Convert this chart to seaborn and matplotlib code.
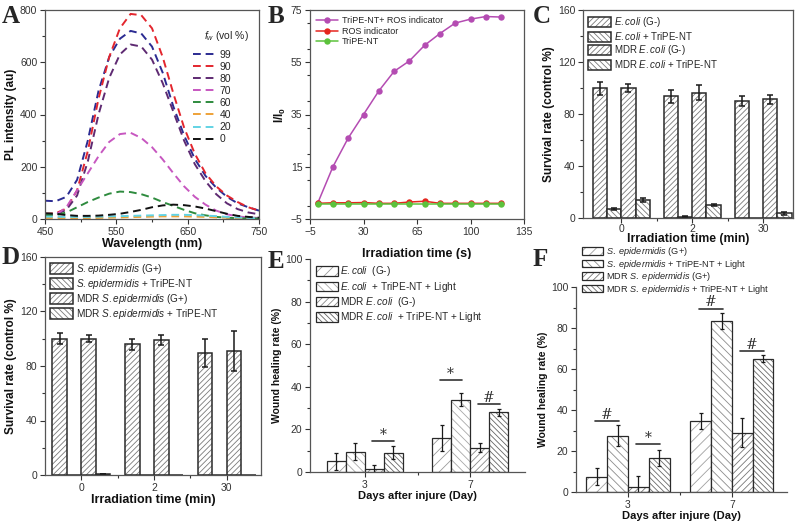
import matplotlib
matplotlib.use("Agg")
import matplotlib.pyplot as plt
import matplotlib.colors as mcolors
from matplotlib.ticker import MultipleLocator, FixedLocator
import pandas as pd
import seaborn as sns

sns.set_theme(style="ticks")
plt.rcParams['font.family'] = ['Liberation Sans', 'DejaVu Sans']
plt.rcParams['mathtext.fontset'] = 'custom'
plt.rcParams['mathtext.rm'] = 'Liberation Sans'
plt.rcParams['mathtext.it'] = 'Liberation Sans:italic'
plt.rcParams['mathtext.bf'] = 'Liberation Sans:bold'
plt.rcParams['hatch.linewidth'] = 0.6

# ---- panel A: PL spectra at different water fractions
wavelength = [450, 465, 480, 495, 510, 525, 540, 555, 570, 585, 600,
              615, 630, 645, 660, 675, 690, 705, 720, 735, 750]
pl_99 = [70, 68, 85, 150, 300, 490, 620, 690, 720, 710, 660,
         560, 430, 320, 230, 165, 120, 85, 60, 45, 32]
pl_90 = [20, 22, 40, 110, 260, 460, 620, 730, 785, 780, 730,
         620, 480, 350, 250, 175, 125, 90, 65, 45, 32]
pl_80 = [15, 18, 35, 90, 220, 400, 540, 630, 668, 660, 610,
         520, 410, 300, 210, 145, 95, 60, 38, 25, 18]
pl_70 = [12, 15, 45, 110, 175, 240, 295, 325, 330, 310, 275,
         228, 175, 125, 85, 55, 32, 18, 10, 6, 4]
pl_60 = [15, 15, 25, 45, 65, 82, 97, 105, 103, 95, 82,
         65, 50, 35, 22, 14, 8, 5, 3, 2, 2]
pl_40 = [4, 4, 3, 3, 3, 4, 5, 6, 7, 8, 9,
         10, 10, 10, 9, 8, 6, 5, 3, 2, 2]
pl_20 = [9, 9, 8, 8, 8, 9, 10, 11, 12, 13, 14,
         15, 16, 16, 15, 13, 11, 8, 6, 4, 3]
pl_0 = [22, 20, 15, 12, 12, 13, 16, 20, 27, 35, 45,
        52, 55, 53, 48, 40, 30, 20, 12, 8, 5]
fw_labels = ['99', '90', '80', '70', '60', '40', '20', '0']
fw_colors = ['#2b2b92', '#e3262e', '#5e2a72', '#c757c0', '#2e8b3e', '#eea238', '#62d3e4', '#111111']

# ---- panel B: ROS generation
time_s = [0, 10, 20, 30, 40, 50, 60, 70, 80, 90, 100, 110, 120]
ros_tripe = [1, 15, 26, 35, 44, 51.5, 55.5, 61.5, 66, 70, 71.5, 72.5, 72.3]
ros_only = [1, 1.2, 1.2, 1.3, 1, 1, 1.5, 1.8, 1, 1, 1, 1, 1]
tripe_only = [0.8, 0.8, 0.8, 0.8, 0.8, 0.8, 0.8, 0.8, 0.8, 0.8, 0.8, 0.8, 0.8]

# ---- panel C: E. coli survival
irr_min = ['0', '2', '30']
c_labels = [r'$\mathit{E.coli}$ (G-)', r'$\mathit{E.coli}$ + TriPE-NT',
            r'MDR $\mathit{E.coli}$ (G-)', r'MDR $\mathit{E.coli}$ + TriPE-NT']
surv_ecoli = [100, 93.5, 90]
surv_ecoli_err = [5, 5, 4]
surv_ecoli_tripe = [7, 1, 0]
surv_ecoli_tripe_err = [0.6, 0.3, 0]
surv_mdr_ecoli = [100, 96.5, 91.5]
surv_mdr_ecoli_err = [3, 6, 3.5]
surv_mdr_ecoli_tripe = [14, 10, 3.5]
surv_mdr_ecoli_tripe_err = [1.5, 0.8, 1]

# ---- panel D: S. epidermidis survival
d_labels = [r'$\mathit{S.epidermidis}$ (G+)', r'$\mathit{S.epidermidis}$ + TriPE-NT',
            r'MDR $\mathit{S.epidermidis}$ (G+)', r'MDR $\mathit{S.epidermidis}$ + TriPE-NT']
surv_sepi = [100, 96, 89.5]
surv_sepi_err = [4, 4, 10]
surv_sepi_tripe = [0.3, 0, 0]
surv_sepi_tripe_err = [0, 0, 0]
surv_mdr_sepi = [100, 99, 91]
surv_mdr_sepi_err = [2.5, 3.5, 15]
surv_mdr_sepi_tripe = [0.7, 0, 0]
surv_mdr_sepi_tripe_err = [0.3, 0, 0]

# ---- panel E / F: wound healing
days = ['3', '7']
e_labels = [r'$\mathit{E.coli}$  (G-)', r'$\mathit{E.coli}$  + TriPE-NT + Light',
            r'MDR $\mathit{E.coli}$  (G-)', r'MDR $\mathit{E.coli}$  + TriPE-NT + Light']
heal_ecoli = [5, 16]
heal_ecoli_err = [4, 6]
heal_ecoli_tripe = [9.5, 34]
heal_ecoli_tripe_err = [4, 3]
heal_mdr_ecoli = [1.5, 11.5]
heal_mdr_ecoli_err = [2, 2.2]
heal_mdr_ecoli_tripe = [9, 28]
heal_mdr_ecoli_tripe_err = [3, 1.5]
# (day index, bar a, bar b, line height, symbol)
sig_e = [(0, 2, 3, 14.7, '*'), (1, 0, 1, 43, '*'), (1, 2, 3, 32, '#')]

f_labels = [r'$\mathit{S.\ epidermidis}$ (G+)', r'$\mathit{S.\ epidermidis}$ + TriPE-NT + Light',
            r'MDR $\mathit{S.\ epidermidis}$ (G+)', r'MDR $\mathit{S.\ epidermidis}$ + TriPE-NT + Light']
heal_sepi = [7.5, 34.5]
heal_sepi_err = [4, 4]
heal_sepi_tripe = [27.5, 83.5]
heal_sepi_tripe_err = [5, 4]
heal_mdr_sepi = [2.2, 29]
heal_mdr_sepi_err = [5.5, 7]
heal_mdr_sepi_tripe = [16.5, 65]
heal_mdr_sepi_tripe_err = [4, 1.8]
sig_f = [(0, 0, 1, 34.8, '#'), (0, 2, 3, 23.5, '*'), (1, 0, 1, 89.5, '#'), (1, 2, 3, 68.6, '#')]

fig = plt.figure(figsize=(8, 5.21), dpi=100)
W, H = 800, 521


def box(l, t, r, b):
    return fig.add_axes([l / W, 1 - b / H, (r - l) / W, (b - t) / H])


def style(ax, frame=True):
    for s in ax.spines.values():
        s.set_color('#555555')
        s.set_linewidth(0.9)
    if not frame:
        ax.spines['top'].set_visible(False)
        ax.spines['right'].set_visible(False)
    ax.tick_params(which='both', direction='out', colors='#333333', labelsize=7.5,
                   width=0.8, top=False, right=False, pad=2)
    ax.tick_params(which='major', length=3.5)
    ax.tick_params(which='minor', length=2)
    ax.grid(False)


def labels(ax, xl, yl, lp=1):
    ax.set_xlabel(xl, fontsize=9, fontweight='bold', labelpad=lp, color='#111111')
    ax.set_ylabel(yl, fontsize=8.5, fontweight='bold', labelpad=2, color='#111111')


def bars(ax, cats, series, errs, names, hatches, hcolors, width, lw=1.0, cap=2):
    rows = []
    for nm, vals in zip(names, series):
        for c, v in zip(cats, vals):
            rows.append({'cat': c, 'grp': nm, 'val': v})
    df = pd.DataFrame(rows)
    sns.barplot(data=df, x='cat', y='val', hue='grp', order=cats, hue_order=names,
                palette=['white'] * len(names), saturation=1, errorbar=None,
                width=width, gap=0, legend=False, ax=ax)
    conts = list(ax.containers)
    for cont, err, h, hc in zip(conts, errs, hatches, hcolors):
        xs, ys, es = [], [], []
        for b, e in zip(cont, err):
            b.set_hatch(h)
            b.set_edgecolor('#2a2a2a')
            b.set_linewidth(lw)
            b._hatch_color = mcolors.to_rgba(hc)
            if e > 0:
                xs.append(b.get_x() + b.get_width() / 2)
                ys.append(b.get_height())
                es.append(e)
        if xs:
            ax.errorbar(xs, ys, yerr=es, fmt='none', ecolor='#1a1a1a',
                        elinewidth=lw, capsize=cap, capthick=lw)
    return conts


def signif(ax, conts, sig):
    for g, a, b, y, sym in sig:
        pa, pb = conts[a][g], conts[b][g]
        x0 = pa.get_x() + pa.get_width() * 0.4
        x1 = pb.get_x() + pb.get_width() * 0.55
        ax.plot([x0, x1], [y, y], color='#333333', lw=1.2)
        ax.text((x0 + x1) / 2, y + 1.0, sym, ha='center', va='baseline',
                fontsize=10, color='#333333', family='DejaVu Serif')


# ---------------- A
ax = box(45, 10, 259, 219)
style(ax)
for vals, lab, col in zip([pl_99, pl_90, pl_80, pl_70, pl_60, pl_40, pl_20, pl_0], fw_labels, fw_colors):
    sns.lineplot(x=wavelength, y=vals, ax=ax, color=col, lw=1.4, label=lab,
                 linestyle=(0, (4, 2.5)))
ax.set_xlim(450, 750)
ax.set_ylim(0, 800)
ax.xaxis.set_minor_locator(MultipleLocator(50))
ax.yaxis.set_major_locator(MultipleLocator(200))
ax.yaxis.set_minor_locator(MultipleLocator(100))
ax.set_xticks([450, 550, 650, 750])
labels(ax, 'Wavelength (nm)', 'PL intensity (au)')
ax.text(0.745, 0.875, r'$f_w$ (vol %)', transform=ax.transAxes, fontsize=7.5,
        ha='left', va='center')
ax.legend(frameon=False, fontsize=7.5, loc='upper left', bbox_to_anchor=(0.69, 0.81),
          handlelength=2.2, labelspacing=0.2, borderaxespad=0.0, handletextpad=0.4,
          borderpad=0.0)

# ---------------- B
ax = box(310, 10, 524, 219)
style(ax)
for vals, lab, col in zip([ros_tripe, ros_only, tripe_only],
                          ['TriPE-NT+ ROS indicator', 'ROS indicator', 'TriPE-NT'],
                          ['#b44cb2', '#e5261f', '#5cc23c']):
    sns.lineplot(x=time_s, y=vals, ax=ax, color=col, lw=1.1, marker='o',
                 markersize=4.6, markeredgewidth=0, label=lab)
ax.set_xlim(-5, 135)
ax.set_ylim(-5, 75)
ax.yaxis.set_minor_locator(MultipleLocator(10))
ax.set_xticks([-5, 30, 65, 100, 135])
ax.set_yticks([-5, 15, 35, 55, 75])
labels(ax, 'Irradiation time (s)', r'I/I$_\mathbf{0}$', lp=8)
ax.legend(frameon=False, fontsize=6.5, loc='upper left', handlelength=2.4,
          labelspacing=0.15, borderaxespad=0.3, handletextpad=0.4)

# ---------------- C
ax = box(583, 10, 793, 218)
style(ax)
conts = bars(ax, irr_min,
             [surv_ecoli, surv_ecoli_tripe, surv_mdr_ecoli, surv_mdr_ecoli_tripe],
             [surv_ecoli_err, surv_ecoli_tripe_err, surv_mdr_ecoli_err, surv_mdr_ecoli_tripe_err],
             c_labels, ['//////', '\\\\\\\\\\\\', '//////', '\\\\\\\\\\\\'],
             ['#7a7a7a'] * 4, 0.8, lw=1.1, cap=2.2)
ax.set_xlim(-0.54, 2.42)
ax.set_ylim(0, 160)
ax.yaxis.set_major_locator(MultipleLocator(40))
ax.yaxis.set_minor_locator(MultipleLocator(20))
ax.xaxis.set_minor_locator(FixedLocator([0.5, 1.5]))
ax.tick_params(axis='x', pad=1)
labels(ax, 'Irradiation time (min)', 'Survival rate (control %)', lp=-1)
ax.xaxis.label.set_fontsize(8.8)
ax.legend(conts, c_labels, frameon=False, fontsize=7, loc='upper left',
          handlelength=2.3, handleheight=1.25, labelspacing=0.1,
          borderaxespad=0.15, handletextpad=0.3)

# ---------------- D
ax = box(45, 257, 261, 475)
style(ax)
conts = bars(ax, irr_min,
             [surv_sepi, surv_sepi_tripe, surv_mdr_sepi, surv_mdr_sepi_tripe],
             [surv_sepi_err, surv_sepi_tripe_err, surv_mdr_sepi_err, surv_mdr_sepi_tripe_err],
             d_labels, ['//////', '\\\\\\\\\\\\', '//////', '\\\\\\\\\\\\'],
             ['#7a7a7a'] * 4, 0.8, lw=1.1, cap=2.2)
ax.set_xlim(-0.5, 2.47)
ax.set_ylim(0, 160)
ax.yaxis.set_major_locator(MultipleLocator(40))
ax.yaxis.set_minor_locator(MultipleLocator(20))
ax.xaxis.set_minor_locator(FixedLocator([0.5, 1.5]))
labels(ax, 'Irradiation time (min)', 'Survival rate (control %)')
ax.legend(conts, d_labels, frameon=False, fontsize=7.2, loc='upper left',
          handlelength=2.3, handleheight=1.2, labelspacing=0.1,
          borderaxespad=0.1, handletextpad=0.3)

# ---------------- E
ax = box(310, 259, 525, 472)
style(ax, frame=False)
conts = bars(ax, days,
             [heal_ecoli, heal_ecoli_tripe, heal_mdr_ecoli, heal_mdr_ecoli_tripe],
             [heal_ecoli_err, heal_ecoli_tripe_err, heal_mdr_ecoli_err, heal_mdr_ecoli_tripe_err],
             e_labels, ['///', '\\\\\\\\', '/////', '\\\\\\\\\\\\'],
             ['#9a9a9a', '#a8a8a8', '#8a8a8a', '#666666'], 0.72, lw=0.9, cap=1.6)
signif(ax, conts, sig_e)
ax.set_xlim(-0.52, 1.52)
ax.set_ylim(0, 100)
ax.yaxis.set_major_locator(MultipleLocator(20))
ax.yaxis.set_minor_locator(MultipleLocator(10))
ax.xaxis.set_minor_locator(FixedLocator([0.5]))
labels(ax, 'Days after injure (Day)', 'Wound healing rate (%)')
ax.xaxis.label.set_fontsize(8)
ax.yaxis.label.set_fontsize(7.5)
ax.legend(conts, e_labels, frameon=False, fontsize=7.2, loc='upper left',
          bbox_to_anchor=(0.0, 1.0), handlelength=2.2, handleheight=1.1,
          labelspacing=0.12, borderaxespad=0.15, handletextpad=0.3)

# ---------------- F
ax = box(576, 287, 787, 492)
style(ax, frame=False)
conts = bars(ax, days,
             [heal_sepi, heal_sepi_tripe, heal_mdr_sepi, heal_mdr_sepi_tripe],
             [heal_sepi_err, heal_sepi_tripe_err, heal_mdr_sepi_err, heal_mdr_sepi_tripe_err],
             f_labels, ['///', '\\\\\\\\', '/////', '\\\\\\\\\\\\'],
             ['#a0a0a0', '#8c8c8c', '#777777', '#6a6a6a'], 0.8, lw=0.9, cap=1.6)
signif(ax, conts, sig_f)
ax.set_xlim(-0.5, 1.53)
ax.set_ylim(0, 100)
ax.yaxis.set_major_locator(MultipleLocator(20))
ax.yaxis.set_minor_locator(MultipleLocator(10))
ax.xaxis.set_minor_locator(FixedLocator([0.5]))
labels(ax, 'Days after injure (Day)', 'Wound healing rate (%)')
ax.xaxis.label.set_fontsize(8)
ax.yaxis.label.set_fontsize(7.5)
ax.legend(conts, f_labels, frameon=False, fontsize=6.6, loc='lower left',
          bbox_to_anchor=(0.03, 0.958), handlelength=2.3, handleheight=0.9,
          labelspacing=-0.05, borderaxespad=0.0, handletextpad=0.3, borderpad=0.0)

# panel letters
for letter, (px, py) in zip('ABCDEF', [(2, 5), (268, 5), (533, 5), (2, 246), (268, 250), (533, 248)]):
    fig.text(px / W, 1 - py / H, letter, fontsize=18, fontweight='bold',
             family='Liberation Serif', va='top', ha='left')

fig.savefig('out.png', dpi=100)
